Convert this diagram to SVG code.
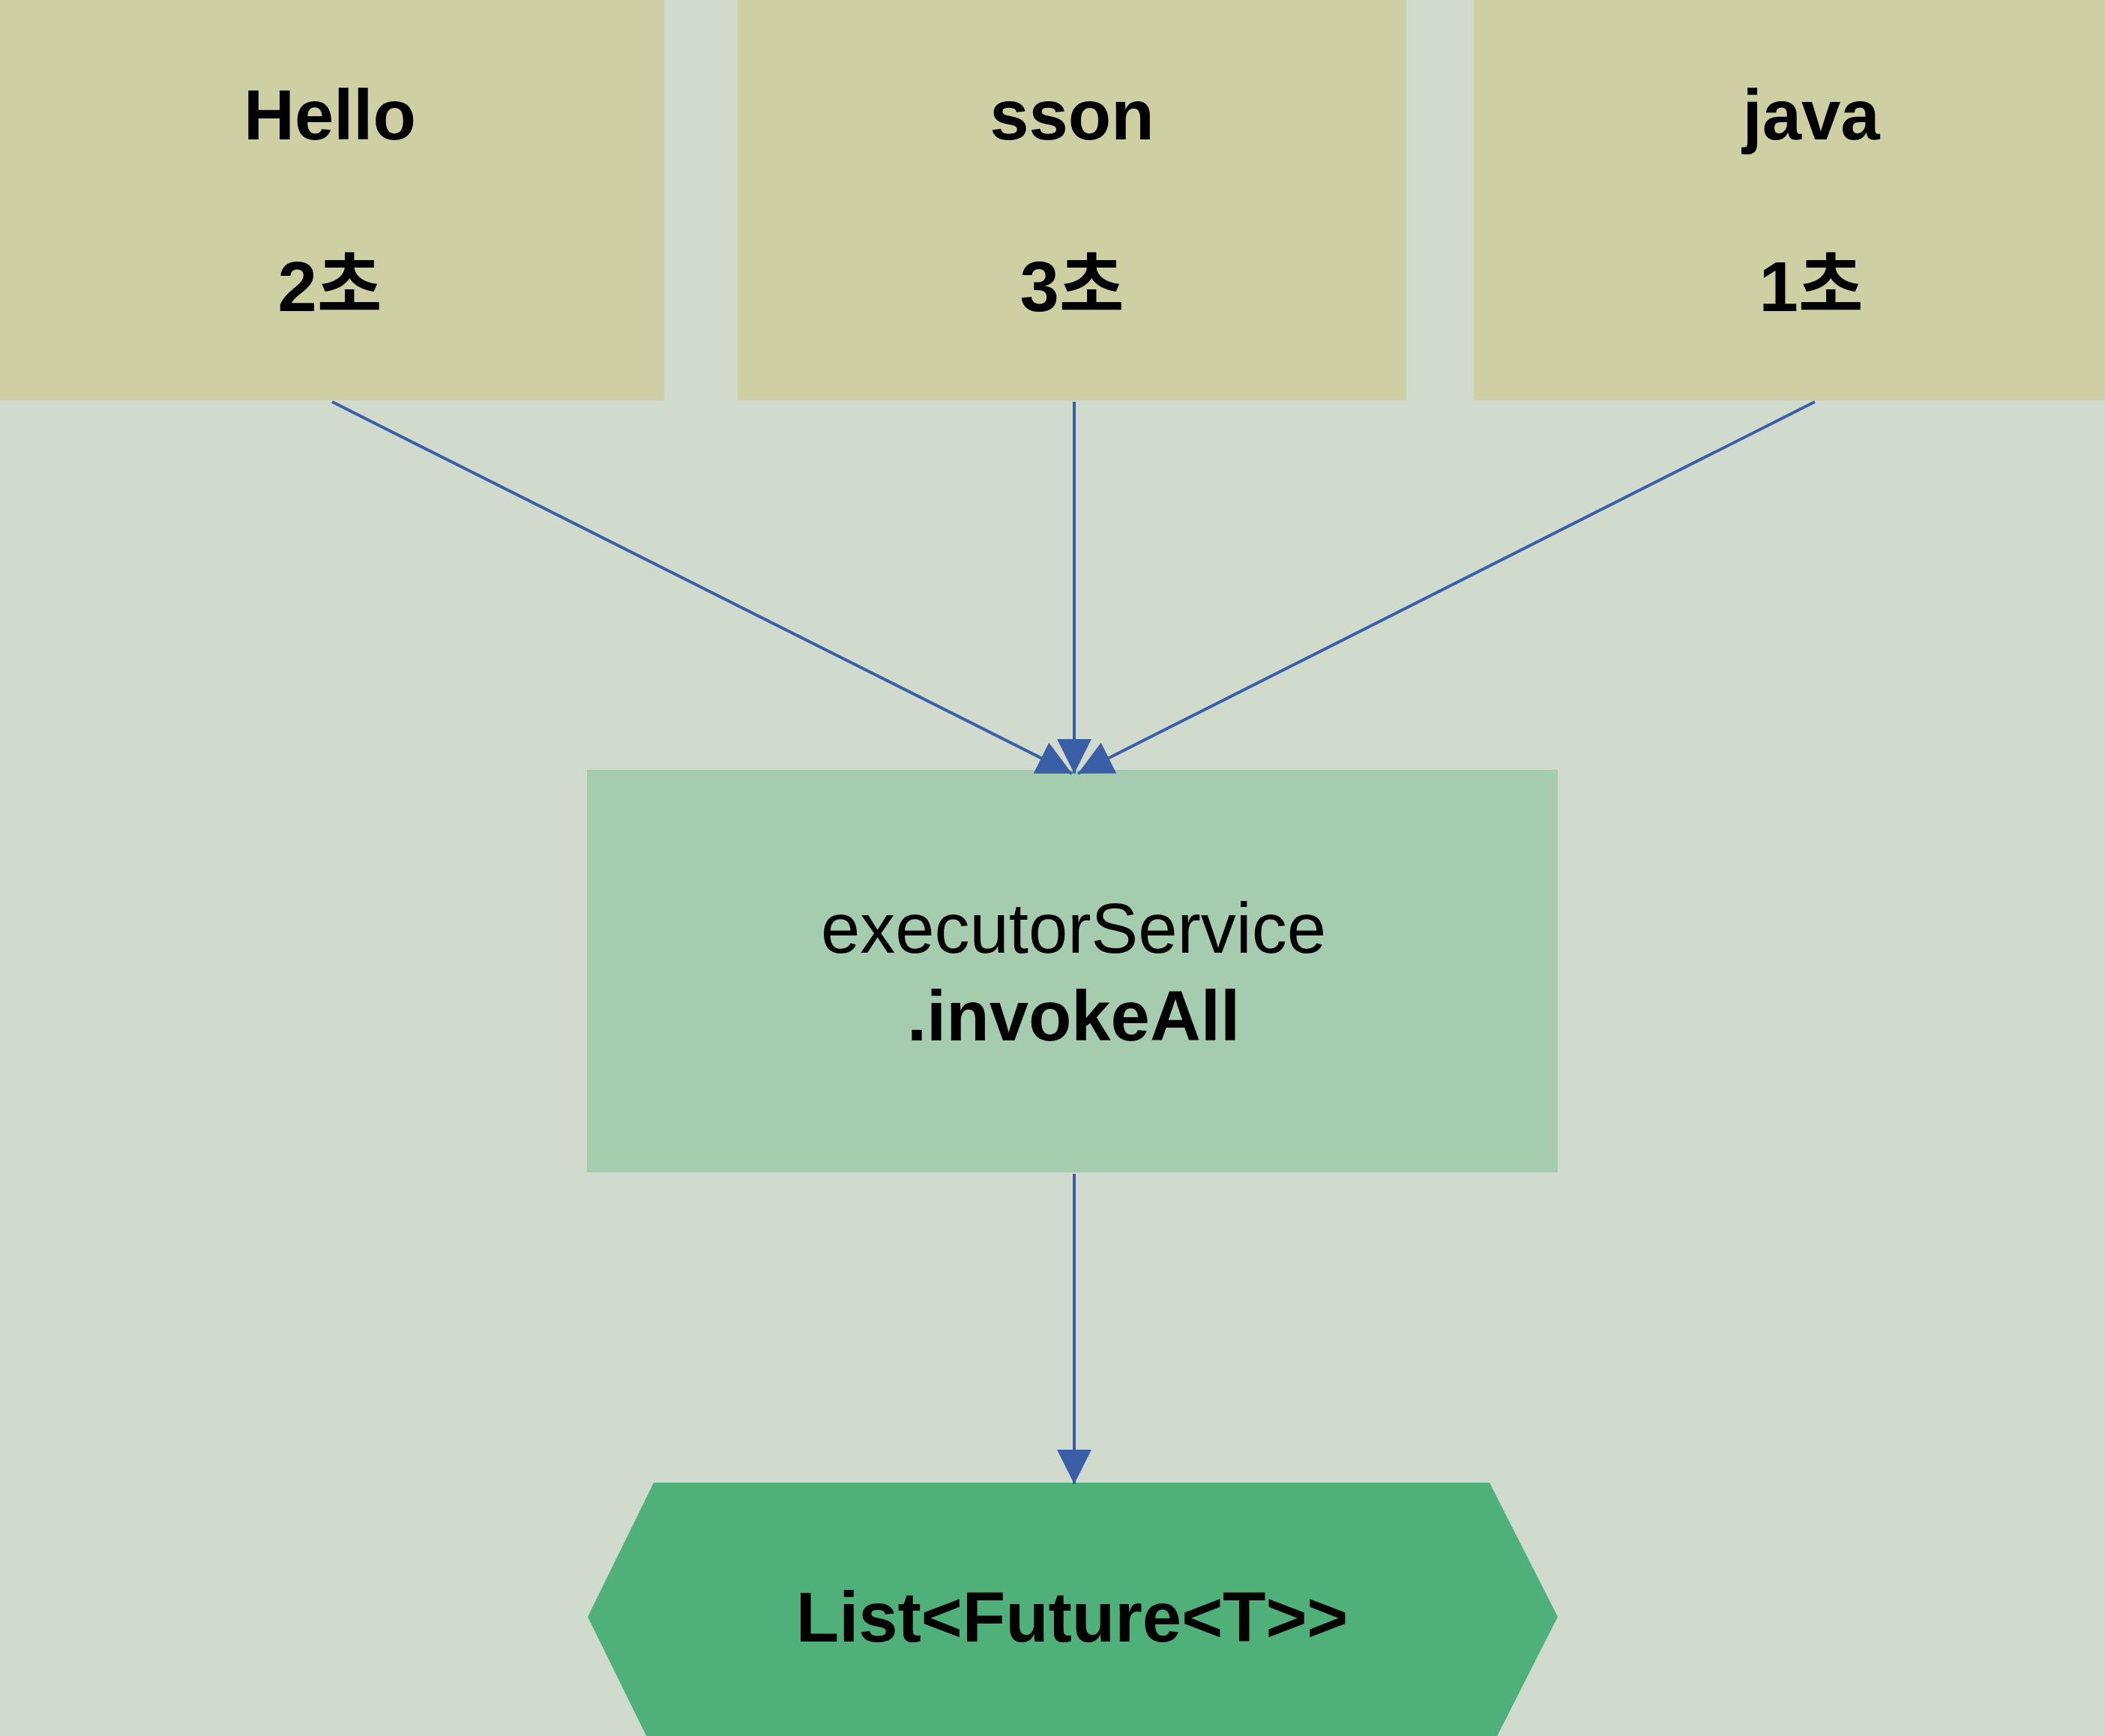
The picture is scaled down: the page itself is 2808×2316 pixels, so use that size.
<svg xmlns="http://www.w3.org/2000/svg" width="2808" height="2316" viewBox="0 0 2808 2316">
<style>
.t{font-family:"Liberation Sans","Noto Sans CJK KR",sans-serif;font-size:94px;fill:#000;text-anchor:middle}
.b{font-weight:bold}
.src{fill:#CECFA2}
.conn{stroke:#3A5FA6;stroke-width:4;fill:none}
</style>
<defs>
<marker id="ah" viewBox="0 0 46 46" refX="46" refY="23" markerWidth="46" markerHeight="46" markerUnits="userSpaceOnUse" orient="auto">
<path d="M0,0 L46,23 L0,46 z" fill="#3A5FA6"/>
</marker>
</defs>
<rect x="0" y="0" width="2808" height="2316" fill="#D0DBCD"/>
<g id="node-hello">
<rect class="src" x="0" y="0" width="886" height="534"/>
<text class="t b" x="440" y="186">Hello</text>
<text class="t b" x="440" y="415">2초</text>
</g>
<g id="node-sson">
<rect class="src" x="984" y="0" width="892" height="534"/>
<text class="t b" x="1430" y="186">sson</text>
<text class="t b" x="1430" y="415">3초</text>
</g>
<g id="node-java">
<rect class="src" x="1966" y="0" width="900" height="534"/>
<text class="t b" x="2416" y="186">java</text>
<text class="t b" x="2416" y="415">1초</text>
</g>
<g id="node-invokeall">
<rect x="783" y="1027" width="1295" height="537" fill="#A6CCB0"/>
<text class="t" x="1432" y="1271">executorService</text>
<text class="t b" x="1432" y="1388">.invokeAll</text>
</g>
<g id="node-result">
<polygon points="872,1978 1987,1978 2078,2157 1987,2336 872,2336 784,2157" fill="#4FB07A"/>
<text class="t b" x="1430" y="2190">List&lt;Future&lt;T&gt;&gt;</text>
</g>
<g id="connectors">
<line class="conn" x1="443" y1="536" x2="1430" y2="1032" marker-end="url(#ah)"/>
<line class="conn" x1="1433" y1="536" x2="1433" y2="1032" marker-end="url(#ah)"/>
<line class="conn" x1="2421" y1="536" x2="1438" y2="1032" marker-end="url(#ah)"/>
<line class="conn" x1="1433" y1="1566" x2="1433" y2="1980" marker-end="url(#ah)"/>
</g>
</svg>
